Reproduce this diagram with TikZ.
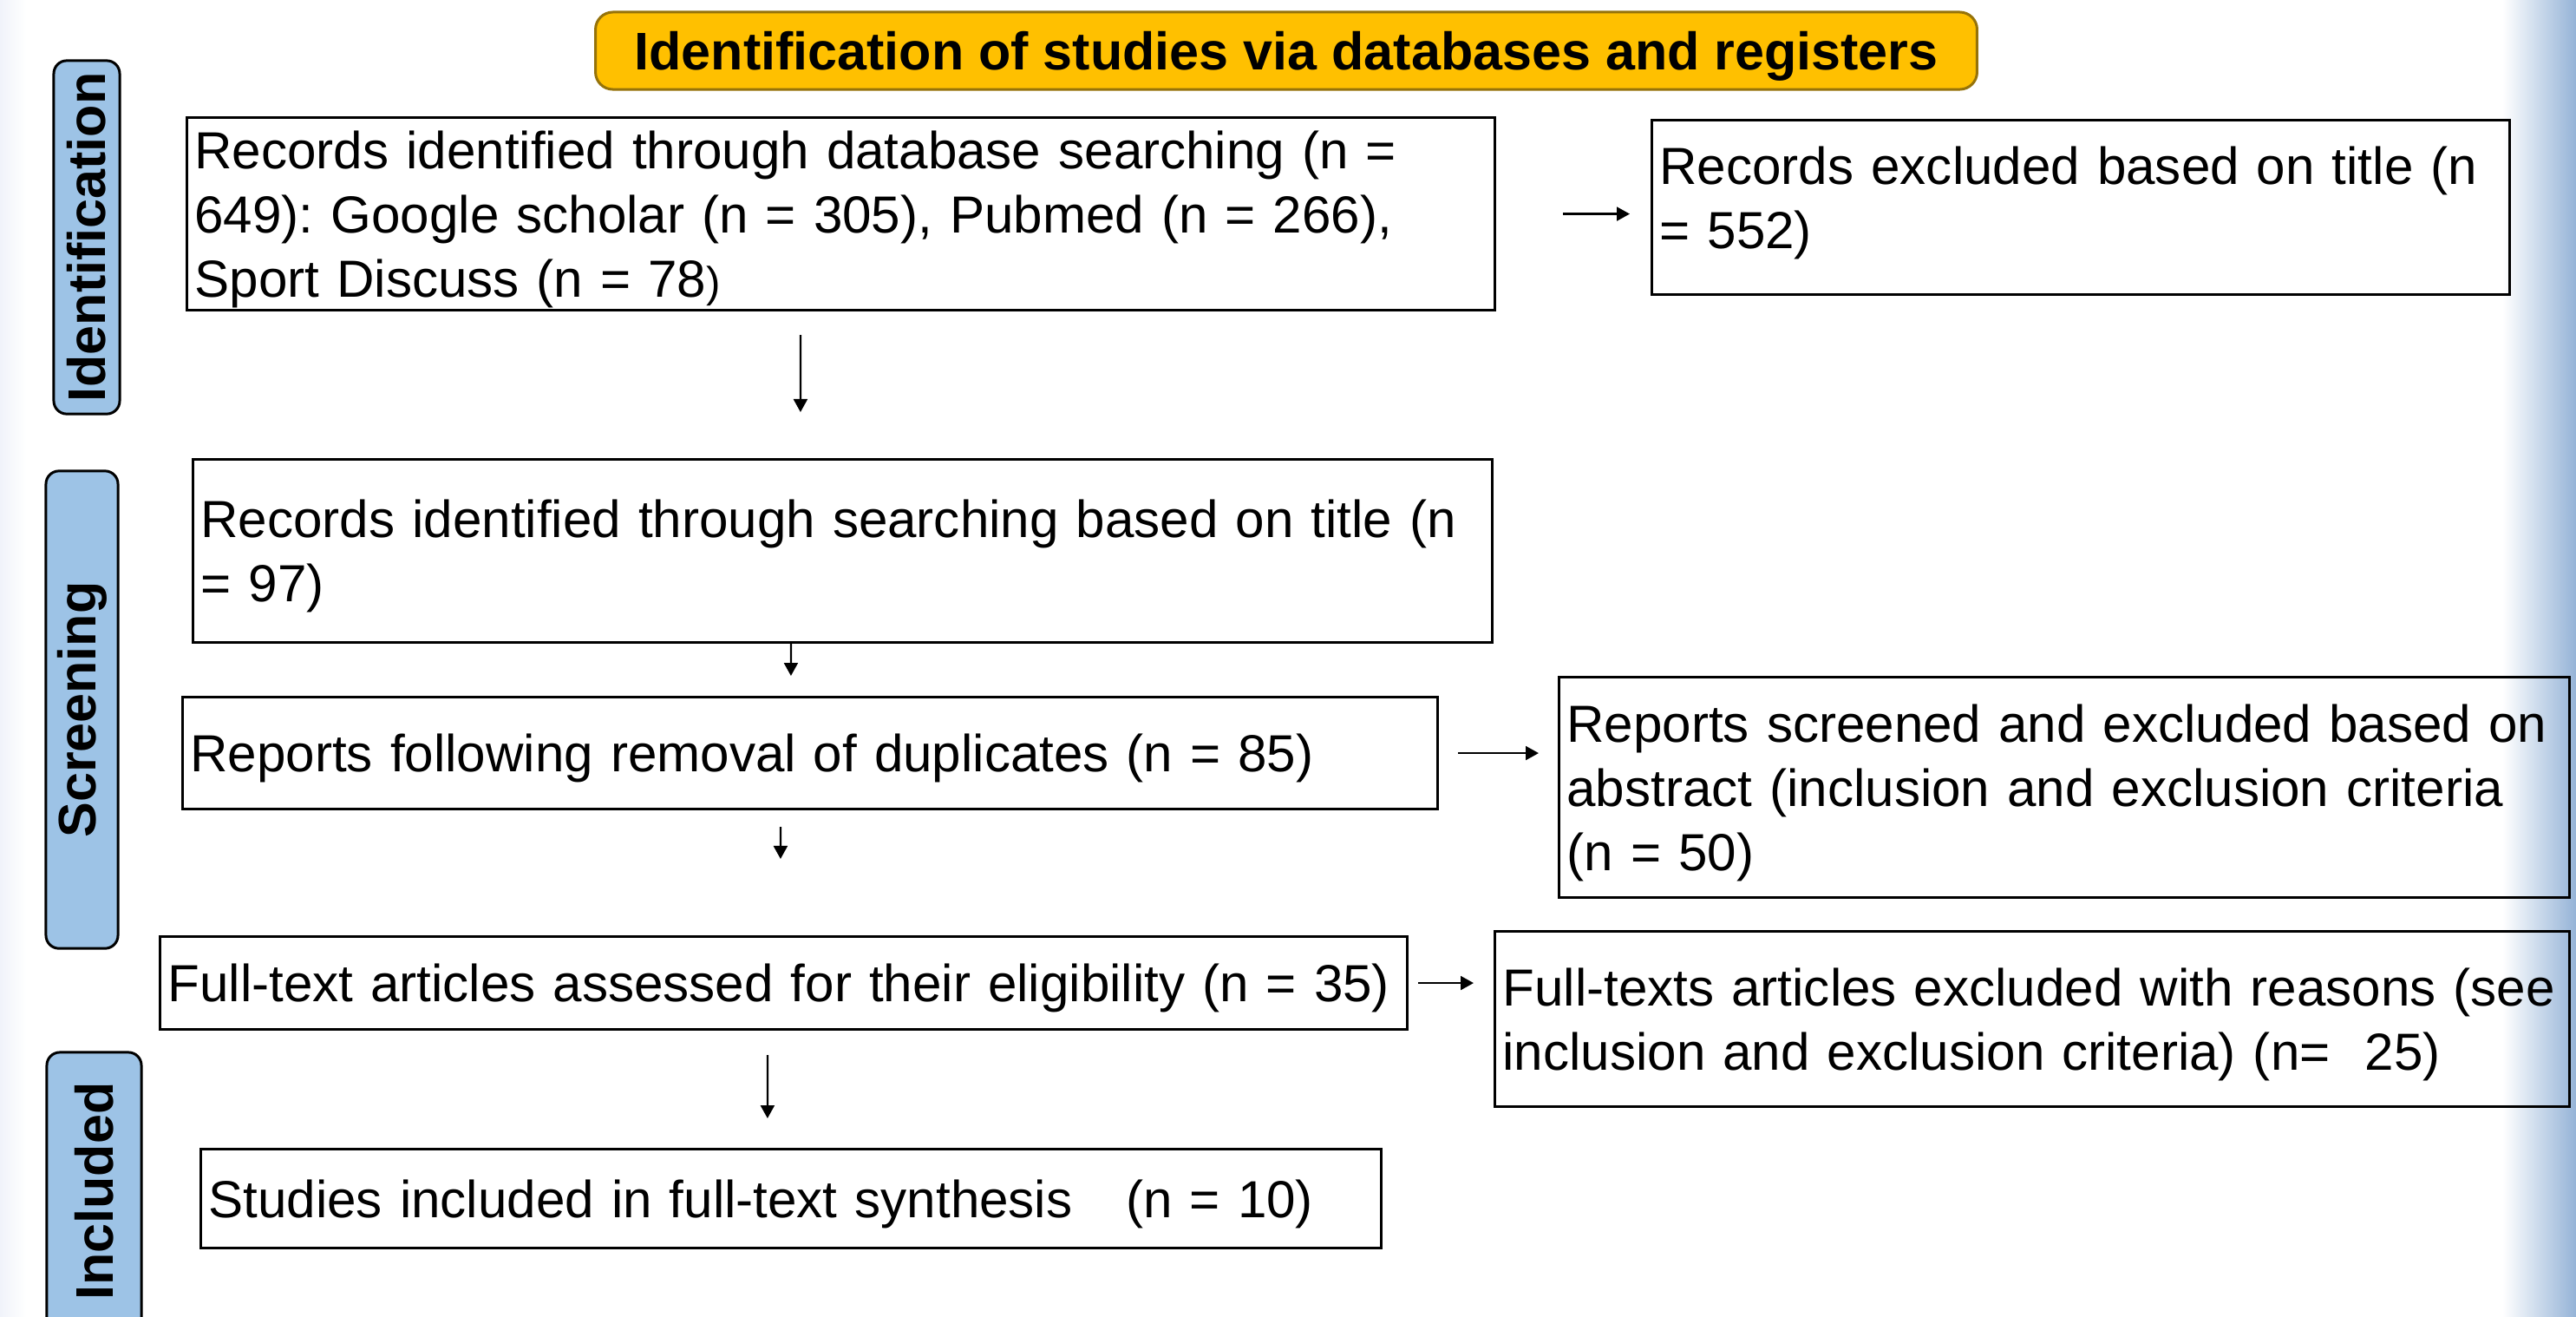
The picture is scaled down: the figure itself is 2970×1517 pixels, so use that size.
\documentclass[tikz,border=0pt]{standalone}
\usepackage{fontspec}
\setmainfont{Liberation Sans}
\usetikzlibrary{arrows.meta,calc}
\definecolor{titlefill}{RGB}{255,192,0}
\definecolor{titledraw}{RGB}{150,115,10}
\definecolor{labfill}{RGB}{157,195,230}
\definecolor{edgeblue}{RGB}{149,179,215}
\definecolor{leftstrip}{RGB}{240,243,250}
\frenchspacing
\newcommand\lastl[2][0pt]{\raisebox{0pt}[\height][#1]{#2}}
\tikzset{
  flowbox/.style={draw=black, line width=0.03cm, align=left, anchor=north west,
    inner xsep=0.09cm, inner ysep=0pt,
    font=\fontsize{17.1pt}{21.1pt}\selectfont},
  phaselabel/.style={draw=black, line width=0.03cm, fill=labfill, rounded corners=0.15cm,
    rotate=90, inner sep=0pt, font=\fontsize{17.36pt}{21.2pt}\selectfont\bfseries},
  titlebox/.style={draw=titledraw, line width=0.03cm, fill=titlefill, rounded corners=0.2cm,
    inner sep=0pt, font=\fontsize{17.36pt}{21.2pt}\selectfont\bfseries},
  arr/.style={draw=black, line width=0.022cm, -{Triangle[width=0.16cm,length=0.15cm]}}
}
\begin{document}
\begin{tikzpicture}[x=0.01cm,y=-0.01cm]
\useasboundingbox (0,0) rectangle (2970,1517);
\fill[white] (0,0) rectangle (2970,1517);
\shade[left color=leftstrip, right color=white] (0,0) rectangle (30,1517);
\shade[left color=white, right color=edgeblue] (2885,0) rectangle (2970,1517);

% title
\node[titlebox, minimum width=15.92cm, minimum height=0.89cm] (title) at (1483,58.5)
  {\lastl{Identification of studies via databases and registers}};

% phase labels
\node[phaselabel, minimum width=4.07cm, minimum height=0.76cm] (lid) at (100,273.5) {Identification};
\node[phaselabel, minimum width=5.50cm, minimum height=0.83cm] (lsc) at (94.5,818) {Screening};
\node[phaselabel, minimum width=3.20cm, minimum height=1.09cm] (lin) at (108.5,1373) {Included};

% boxes
\node[flowbox, text width=14.89cm, minimum height=2.22cm] (b1) at (214,134)
  {\mbox{Records identified through database searching (n =}\\\mbox{649): Google scholar (n = 305), Pubmed (n = 266),}\\\lastl{Sport Discuss (n = 78{\fontsize{14pt}{21.1pt}\selectfont )}}};
\node[flowbox, text width=9.70cm, minimum height=2.01cm] (b2) at (1903,137)
  {\mbox{Records excluded based on title (n}\\\lastl[0.22cm]{= 552)}};
\node[flowbox, text width=14.79cm, minimum height=2.11cm] (b3) at (221,528)
  {\mbox{Records identified through searching based on title (n}\\\lastl{= 97)}};
\node[flowbox, text width=14.28cm, minimum height=1.29cm] (b4) at (209,802)
  {\lastl{Reports following removal of duplicates (n = 85)}};
\node[flowbox, text width=14.19cm, minimum height=1.07cm] (b5) at (183,1078)
  {\lastl{Full-text articles assessed for their eligibility (n = 35)}};
\node[flowbox, text width=13.42cm, minimum height=1.14cm] (b6) at (230,1323)
  {\lastl{Studies included in full-text synthesis\hspace{0.62cm}(n = 10)}};
\node[flowbox, text width=11.46cm, minimum height=2.54cm] (b7) at (1796,779)
  {\mbox{Reports screened and excluded based on}\\\mbox{abstract (inclusion and exclusion criteria}\\\lastl{(n = 50)}};
\node[flowbox, text width=12.20cm, minimum height=2.02cm] (b8) at (1722,1072)
  {\mbox{Full-texts articles excluded with reasons (see}\\\lastl{inclusion and exclusion criteria) (n=\ \ 25)}};

% connectors
\draw[arr, shorten <=0.77cm, shorten >=0.24cm] (b1.east) -- (b1.east -| b2.west);
\draw[arr, shorten <=0.27cm, shorten >=0.53cm] ([xshift=-0.465cm]b1.south) -- ([xshift=-0.485cm]b3.north);
\draw[arr, shorten >=0.23cm] ([xshift=-0.595cm]b3.south) -- ([xshift=-0.22cm]b4.north);
\draw[arr, shorten <=0.19cm, shorten >=0.88cm] ([xshift=-0.34cm]b4.south) -- ([xshift=-0.035cm]b5.north);
\draw[arr, shorten <=0.28cm, shorten >=0.34cm] ([xshift=-0.185cm]b5.south) -- ([xshift=-0.27cm]b6.north);
\draw[arr, shorten <=0.22cm, shorten >=0.22cm] (b4.east) -- (b4.east -| b7.west);
\draw[arr, shorten <=0.11cm, shorten >=0.23cm] (b5.east) -- (b5.east -| b8.west);
\end{tikzpicture}
\end{document}
